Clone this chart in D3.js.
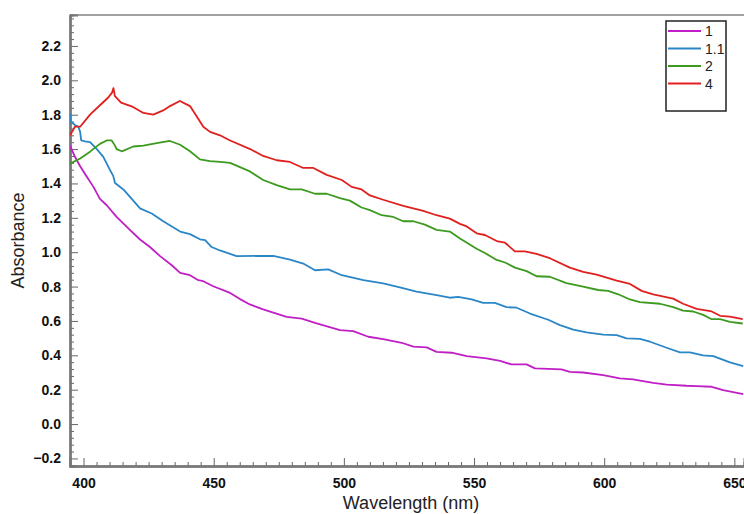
<!DOCTYPE html>
<html>
<head>
<meta charset="utf-8">
<script src="https://cdn.jsdelivr.net/npm/d3@7"></script>
<style>
  body { margin: 0; background: #fff; }
  svg { display: block; font-family: "Liberation Sans", Arial, sans-serif; }
</style>
</head>
<body>
<svg id="chart" width="744" height="514"></svg>
<script>
// wavelength (nm), absorbance pairs
const series1 = [[394.8,1.62],[396.7,1.555],[398.7,1.50],[401.2,1.44],[403.8,1.38],[406.3,1.31],[408.9,1.273],[412.7,1.205],[417.9,1.128],[421.7,1.074],[425.5,1.03],[429.4,0.977],[433.9,0.924],[437.1,0.88],[440.9,0.866],[444.1,0.837],[446,0.831],[449.8,0.802],[456.3,0.763],[460.1,0.727],[463.9,0.696],[469,0.667],[478,0.624],[483.8,0.614],[488.9,0.589],[498.5,0.547],[503.6,0.541],[509.4,0.508],[515.1,0.494],[522.2,0.473],[526.7,0.45],[531.8,0.446],[535.6,0.42],[541.4,0.415],[547.2,0.395],[554.8,0.382],[560,0.368],[564.4,0.347],[570.2,0.347],[573.4,0.324],[583.6,0.318],[586.8,0.304],[591.9,0.30],[599.6,0.285],[606,0.266],[611.1,0.26],[618.8,0.24],[624,0.23],[631.6,0.223],[635.5,0.221],[641.3,0.217],[645.7,0.198],[653.4,0.174]];
const series11 = [[394.8,1.805],[395.1,1.76],[396.7,1.74],[398,1.73],[398.7,1.70],[399.1,1.65],[400.6,1.645],[402.5,1.64],[405.1,1.60],[407.6,1.555],[410.2,1.477],[411.4,1.444],[412.1,1.403],[415.3,1.365],[419.1,1.30],[421.7,1.255],[426.2,1.225],[430.6,1.18],[437.1,1.12],[440.9,1.105],[444.7,1.075],[446.7,1.07],[449.2,1.03],[452.4,1.01],[456.3,0.99],[458.8,0.977],[472.9,0.979],[479.3,0.957],[484.4,0.934],[488.9,0.895],[494,0.90],[499.2,0.866],[507.5,0.837],[515.1,0.818],[521.5,0.795],[527.9,0.77],[535.6,0.75],[540.7,0.735],[543.9,0.74],[549.1,0.725],[553.5,0.705],[558,0.705],[562.5,0.68],[566.4,0.677],[571.5,0.643],[578.5,0.607],[583,0.576],[588.1,0.55],[593.2,0.533],[599.6,0.52],[604.8,0.517],[608.6,0.498],[613.7,0.496],[617.6,0.479],[624,0.444],[629.1,0.417],[632.9,0.417],[638,0.40],[641.9,0.395],[648.3,0.359],[653.4,0.337]];
const series2 = [[394.8,1.515],[396.7,1.53],[398.7,1.545],[402.5,1.585],[406.3,1.63],[408.9,1.65],[410.8,1.65],[412.1,1.62],[412.7,1.60],[414.7,1.587],[419.1,1.615],[423,1.62],[428.1,1.635],[433.2,1.647],[437.1,1.625],[440.9,1.587],[444.7,1.54],[448.6,1.53],[452.4,1.525],[456.3,1.52],[460.1,1.495],[463.9,1.47],[469,1.42],[474.2,1.39],[479.3,1.365],[483.8,1.365],[488.9,1.34],[493.4,1.34],[498.5,1.315],[502.3,1.30],[506.8,1.26],[510,1.245],[514.5,1.215],[519,1.205],[522.8,1.18],[526.7,1.18],[531.1,1.16],[535.6,1.13],[540.7,1.12],[544.6,1.08],[551,1.02],[554.2,0.995],[558.7,0.955],[561.9,0.94],[565.7,0.91],[570.2,0.89],[574,0.86],[579.1,0.857],[585.5,0.82],[591.9,0.80],[597.7,0.78],[601.5,0.775],[605.4,0.755],[609.9,0.725],[613.7,0.71],[621.4,0.70],[626.5,0.68],[630.3,0.66],[634.2,0.655],[638,0.635],[641.3,0.61],[644.5,0.61],[648.3,0.595],[653.2,0.585]];
const series4 = [[394.8,1.68],[396.7,1.73],[398.7,1.73],[402.5,1.80],[406.3,1.855],[409.5,1.90],[411,1.93],[411.5,1.955],[412,1.91],[414.4,1.87],[419,1.845],[423,1.81],[426.8,1.80],[430.6,1.825],[433.2,1.85],[437,1.88],[440.9,1.85],[443.5,1.79],[446,1.73],[448.6,1.70],[452.4,1.68],[456.3,1.65],[464,1.60],[469,1.56],[474.2,1.535],[479.3,1.525],[484.4,1.49],[488.3,1.49],[493.4,1.45],[499.2,1.42],[503,1.38],[506.8,1.365],[510,1.33],[515.1,1.305],[522.8,1.27],[530.5,1.24],[535.6,1.215],[540.7,1.195],[544.6,1.165],[547.2,1.15],[551,1.11],[554.2,1.10],[558.7,1.065],[561.9,1.055],[565.7,1.005],[569.5,1.005],[574,0.99],[579.1,0.965],[586.8,0.91],[591.9,0.885],[597.1,0.87],[604.8,0.835],[609.9,0.815],[614.4,0.775],[618.8,0.755],[626.5,0.73],[630.3,0.70],[635.5,0.67],[641.3,0.655],[644.5,0.63],[648.3,0.625],[653.2,0.61]];

const seriesNames = ['1', '1.1', '2', '4'];
const seriesColors = ['#bf1fc4', '#2a86c6', '#3c9a1e', '#e0201e'];
const allSeries = [series1, series11, series2, series4];

const xTickValues = [400, 450, 500, 550, 600, 650];
const yTickValues = [-0.2, 0.0, 0.2, 0.4, 0.6, 0.8, 1.0, 1.2, 1.4, 1.6, 1.8, 2.0, 2.2];

const svg = d3.select('#chart');
const plotLeft = 70, plotRight = 744, plotTop = 15, plotBottom = 466;

const x = d3.scaleLinear().domain([394.8, 653.7]).range([plotLeft, plotRight]);
const y = d3.scaleLinear().domain([-0.244, 2.38]).range([plotBottom, plotTop]);

svg.append('clipPath').attr('id', 'clip')
  .append('rect').attr('x', plotLeft).attr('y', plotTop)
  .attr('width', plotRight - plotLeft).attr('height', plotBottom - plotTop);

// top frame line
svg.append('line')
  .attr('x1', plotLeft).attr('x2', plotRight).attr('y1', plotTop).attr('y2', plotTop)
  .attr('stroke', '#444').attr('stroke-width', 1.2);

// minor ticks
const xMinor = d3.range(395, 654, 5).filter(v => v % 50 !== 0);
const yMinor = d3.range(-24, 238, 4).map(v => v / 100).filter(v => Math.round(v * 100) % 20 !== 0);

const xAxis = svg.append('g').attr('transform', `translate(0,${plotBottom})`);
xAxis.call(d3.axisTop(x).tickValues(xMinor).tickSize(4).tickFormat(''));
xAxis.append('g').call(d3.axisTop(x).tickValues(xTickValues).tickSize(8).tickFormat(''));
xAxis.append('g').call(d3.axisBottom(x).tickValues(xTickValues).tickSize(0).tickPadding(12).tickFormat(d3.format('d')));

const yAxis = svg.append('g').attr('transform', `translate(${plotLeft},0)`);
yAxis.call(d3.axisRight(y).tickValues(yMinor).tickSize(4).tickFormat(''));
yAxis.append('g').call(d3.axisRight(y).tickValues(yTickValues).tickSize(8).tickFormat(''));
yAxis.append('g').call(d3.axisLeft(y).tickValues(yTickValues).tickSize(0).tickPadding(9)
  .tickFormat(d => d3.format('.1f')(d).replace('-', '\u2212')));

svg.selectAll('.domain').attr('stroke', '#777').attr('stroke-width', 2);
svg.selectAll('.tick line').attr('stroke', '#666');
svg.selectAll('.tick text')
  .attr('font-size', 14).attr('font-weight', 'bold').attr('fill', '#111')
  .attr('font-family', '"Liberation Sans", Arial, sans-serif');

// axis titles
svg.append('text')
  .attr('transform', `translate(24,${(plotTop + plotBottom) / 2}) rotate(-90)`)
  .attr('text-anchor', 'middle').attr('font-size', 18).attr('fill', '#222')
  .text('Absorbance');
svg.append('text')
  .attr('x', 411).attr('y', 509)
  .attr('text-anchor', 'middle').attr('font-size', 18).attr('fill', '#222')
  .text('Wavelength (nm)');

// spectra
const line = d3.line().x(d => x(d[0])).y(d => y(d[1]));
svg.append('g').attr('clip-path', 'url(#clip)')
  .selectAll('path')
  .data(allSeries)
  .join('path')
  .attr('d', line)
  .attr('fill', 'none')
  .attr('stroke', (d, i) => seriesColors[i])
  .attr('stroke-width', 1.8)
  .attr('stroke-linejoin', 'round');

// legend
const legend = svg.append('g');
legend.append('rect')
  .attr('x', 666).attr('y', 21).attr('width', 60).attr('height', 90)
  .attr('fill', '#fff').attr('stroke', '#222').attr('stroke-width', 1.5);
seriesNames.forEach((name, i) => {
  const ly = 31 + i * 17.5;
  legend.append('line')
    .attr('x1', 668).attr('x2', 701).attr('y1', ly).attr('y2', ly)
    .attr('stroke', seriesColors[i]).attr('stroke-width', 1.8);
  legend.append('text')
    .attr('x', 705).attr('y', ly + 5)
    .attr('font-size', 14).attr('fill', '#222')
    .text(name);
});
</script>
</body>
</html>
